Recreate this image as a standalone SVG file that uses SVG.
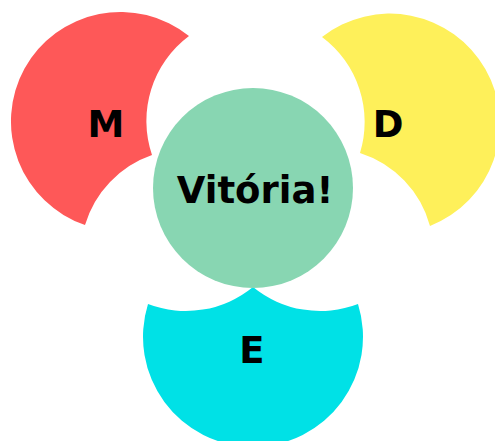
<svg xmlns="http://www.w3.org/2000/svg" width="495" height="441" viewBox="0 0 495 441">
  <style>
    .lbl { font-family: "DejaVu Sans", "Liberation Sans", sans-serif; font-weight: bold; font-size: 37px; fill: #000000; text-anchor: middle; }
  </style>
  <rect x="0" y="0" width="495" height="441" fill="#ffffff"/>
  <g id="node-M">
    <path d="M 189,36 A 109.5 109.5 0 1 0 85,225 A 106 106 0 0 1 152,155 A 106 106 0 0 1 189,36 Z" fill="#fe5858"/>
    <text class="lbl" x="106" y="137">M</text>
  </g>
  <g id="node-D">
    <path d="M 322,37 A 110 110 0 1 1 430,226 A 106 106 0 0 0 360,153 A 106 106 0 0 0 322,37 Z" fill="#fef05a"/>
    <text class="lbl" x="388" y="137">D</text>
  </g>
  <g id="node-E">
    <path d="M 148,304 A 110 110 0 1 0 358,304 A 106 106 0 0 1 253,287 A 106 106 0 0 1 148,304 Z" fill="#00e1e6"/>
    <text class="lbl" x="252" y="363">E</text>
  </g>
  <g id="node-Vitoria">
    <circle cx="253" cy="188" r="100" fill="#88d6b2"/>
    <text class="lbl" x="255" y="203">Vitória!</text>
  </g>
  <g id="connectors"></g>
</svg>
